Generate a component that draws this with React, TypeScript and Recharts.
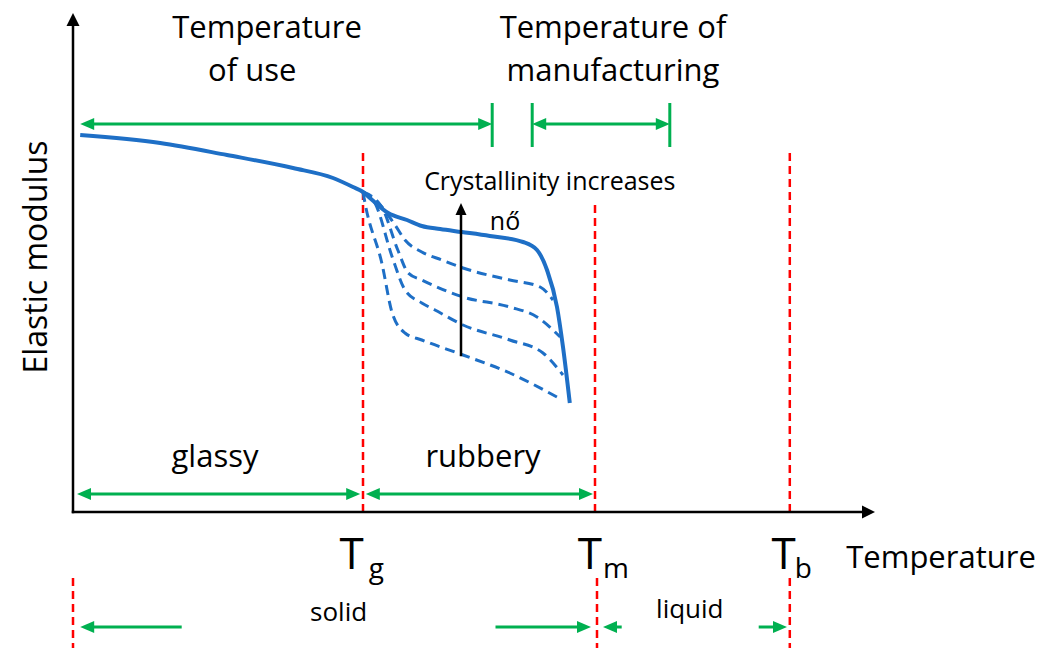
import React from 'react';
import { ComposedChart, Line, XAxis, YAxis, ReferenceLine, ReferenceDot } from 'recharts';

// temperature (t) vs elastic modulus (e), arbitrary units
const solidCurve = [
  { t: 0.9, e: 75.4 }, { t: 10.9, e: 73.8 }, { t: 19.25, e: 71.4 }, { t: 27.5, e: 68.8 },
  { t: 32.5, e: 66.8 }, { t: 35, e: 65 }, { t: 36.25, e: 64 }, { t: 37.4, e: 62.4 },
  { t: 39.4, e: 59.8 }, { t: 41.75, e: 58.4 }, { t: 43.6, e: 57.2 }, { t: 45.9, e: 56.6 },
  { t: 48.6, e: 56 }, { t: 52.1, e: 55.2 }, { t: 56.25, e: 54 }, { t: 58, e: 52.4 },
  { t: 59.25, e: 48.4 }, { t: 60.5, e: 41 }, { t: 61.25, e: 33 }, { t: 62.1, e: 21.8 },
];

const dashed1 = [
  { t: 36.25, e: 64 }, { t: 38.4, e: 61.4 }, { t: 40.25, e: 57.4 }, { t: 41.5, e: 54.4 },
  { t: 43.6, e: 52 }, { t: 46.1, e: 50.4 }, { t: 48.75, e: 48.8 }, { t: 54.6, e: 46.4 },
  { t: 58.4, e: 45 }, { t: 60, e: 42.4 },
];
const dashed2 = [
  { t: 36.25, e: 64 }, { t: 38.6, e: 61 }, { t: 40.6, e: 52.4 }, { t: 41.9, e: 47.8 },
  { t: 43.6, e: 46.4 }, { t: 48.75, e: 43 }, { t: 54.6, e: 41 }, { t: 58, e: 39 },
  { t: 60.9, e: 35 },
];
const dashed3 = [
  { t: 36.25, e: 64 }, { t: 37.75, e: 61.8 }, { t: 39.9, e: 51 }, { t: 41.5, e: 44.4 },
  { t: 43.6, e: 41.8 }, { t: 45.25, e: 40.4 }, { t: 48.75, e: 37.4 }, { t: 54.6, e: 34.4 },
  { t: 58.75, e: 31.8 }, { t: 61.25, e: 27.4 },
];
const dashed4 = [
  { t: 36.25, e: 64 }, { t: 36.5, e: 61.8 }, { t: 38.6, e: 49.8 }, { t: 39.9, e: 39.8 },
  { t: 41.5, e: 35.8 }, { t: 43.6, e: 34.4 }, { t: 48.75, e: 31.4 }, { t: 54.6, e: 27.8 },
  { t: 60.5, e: 23 },
];
const dashedCurves = [dashed1, dashed2, dashed3, dashed4];

// transition temperatures (Tg, Tm, Tb)
const transitions = [
  { name: 'g', t: 36.25, tLow: 36.25, top: 71.8 },
  { name: 'm', t: 65.25, tLow: 65.5, top: 61.4 },
  { name: 'b', t: 89.6, tLow: 89.6, top: 72.4 },
];

// temperature ranges shown as green arrows
const ranges = [
  { from: 0.9, to: 52.4, level: 77.6, heads: 'both' },
  { from: 57.4, to: 74.6, level: 77.6, heads: 'both' },
  { from: 0.5, to: 35.9, level: 3.6, heads: 'both' },
  { from: 36.6, to: 65, level: 3.6, heads: 'both' },
  { from: 0.9, to: 13.4, level: -23, heads: 'start' },
  { from: 53, to: 64.75, level: -23, heads: 'end' },
  { from: 66.25, to: 68.4, level: -23, heads: 'start' },
  { from: 85.9, to: 89.25, level: -23, heads: 'end' },
];
const rangeTicks = [52.4, 57.4, 74.6];

const GREEN = '#00B050';
const BLUE = '#1E6FC6';
const RED = '#FF0000';
const FONT = '"Open Sans", sans-serif';

const headPoints = (tx: number, ty: number, dx: number, dy: number, len: number, w: number) => {
  const bx = tx - dx * len;
  const by = ty - dy * len;
  return `${tx},${ty} ${bx - (dy * w) / 2},${by + (dx * w) / 2} ${bx + (dy * w) / 2},${by - (dx * w) / 2}`;
};

const arrowShape =
  (color: string, width: number, startHead: boolean, endHead: boolean, len = 14, w = 12) =>
  (p: any) => {
    const { x1, y1, x2, y2 } = p;
    const L = Math.hypot(x2 - x1, y2 - y1) || 1;
    const dx = (x2 - x1) / L;
    const dy = (y2 - y1) / L;
    const sx = startHead ? x1 + dx * len * 0.7 : x1;
    const sy = startHead ? y1 + dy * len * 0.7 : y1;
    const ex = endHead ? x2 - dx * len * 0.7 : x2;
    const ey = endHead ? y2 - dy * len * 0.7 : y2;
    return (
      <g>
        <line x1={sx} y1={sy} x2={ex} y2={ey} stroke={color} strokeWidth={width} strokeLinecap="square" />
        {endHead && <polygon points={headPoints(x2, y2, dx, dy, len, w)} fill={color} />}
        {startHead && <polygon points={headPoints(x1, y1, -dx, -dy, len, w)} fill={color} />}
      </g>
    );
  };

const textShape = (text: string, size: number, rotate = false) => (p: any) => (
  <text
    x={p.cx}
    y={p.cy}
    textAnchor="middle"
    fontFamily={FONT}
    fontSize={size}
    fill="#000"
    transform={rotate ? `rotate(-90 ${p.cx} ${p.cy})` : undefined}
  >
    {text}
  </text>
);

// "T" with a subscript, anchored at the left edge of the T
const tempShape = (sub: string, gap: number) => (p: any) => (
  <text x={p.cx} y={p.cy} fontFamily={FONT} fontSize={44} fill="#000">
    T
    <tspan fontSize={28} dx={gap} dy={9}>
      {sub}
    </tspan>
  </text>
);

const notes = [
  { text: 'Temperature', x: 24.25, y: 94.8, size: 31 },
  { text: 'of use', x: 22.4, y: 86.2, size: 31 },
  { text: 'Temperature of', x: 67.5, y: 94.8, size: 31 },
  { text: 'manufacturing', x: 67.5, y: 86.2, size: 31 },
  { text: 'Crystallinity increases', x: 59.6, y: 64.4, size: 25 },
  { text: 'nő', x: 54, y: 56.4, size: 25 },
  { text: 'glassy', x: 17.75, y: 9, size: 31 },
  { text: 'rubbery', x: 51.25, y: 9, size: 31 },
  { text: 'Temperature', x: 108.5, y: -11.2, size: 31 },
  { text: 'solid', x: 33.2, y: -21.8, size: 26 },
  { text: 'liquid', x: 77.1, y: -21.2, size: 26 },
];

const tempLabels = [
  { sub: 'g', x: 33.3, gap: 5 },
  { sub: 'm', x: 63.1, gap: 1 },
  { sub: 'b', x: 87.3, gap: -1 },
];

export default function App() {
  return (
    <div style={{ position: 'absolute', left: 0, top: 0, background: '#fff' }}>
      <ComposedChart width={1050} height={648} margin={{ top: 12, right: 177, bottom: 136, left: 73 }}>
        <XAxis dataKey="t" type="number" domain={[0, 100]} allowDataOverflow hide />
        <YAxis dataKey="e" type="number" domain={[0, 100]} allowDataOverflow hide />

        {/* red dashed transition lines */}
        {transitions.map((tr) => (
          <ReferenceLine
            key={`up-${tr.name}`}
            segment={[{ x: tr.t, y: 0 }, { x: tr.t, y: tr.top }]}
            stroke={RED}
            strokeWidth={2.5}
            strokeDasharray="8 5"
            ifOverflow="visible"
          />
        ))}
        {[0, ...transitions.slice(1).map((tr) => tr.tLow)].map((t, i) => (
          <ReferenceLine
            key={`low-${i}`}
            segment={[{ x: t, y: -13.2 }, { x: t, y: -27.2 }]}
            stroke={RED}
            strokeWidth={2.5}
            strokeDasharray="8 5"
            ifOverflow="visible"
          />
        ))}

        {/* axes with arrows */}
        <ReferenceLine
          segment={[{ x: 0, y: 0 }, { x: 0, y: 99.8 }]}
          ifOverflow="visible"
          shape={arrowShape('#000', 2.5, false, true, 13, 13)}
        />
        <ReferenceLine
          segment={[{ x: 0, y: 0 }, { x: 100.25, y: 0 }]}
          ifOverflow="visible"
          shape={arrowShape('#000', 2.5, false, true, 13, 13)}
        />

        {/* green range arrows */}
        {ranges.map((r, i) => (
          <ReferenceLine
            key={`rng-${i}`}
            segment={[{ x: r.from, y: r.level }, { x: r.to, y: r.level }]}
            ifOverflow="visible"
            shape={arrowShape(GREEN, 3, r.heads === 'both' || r.heads === 'start', r.heads === 'both' || r.heads === 'end')}
          />
        ))}
        {rangeTicks.map((t, i) => (
          <ReferenceLine
            key={`tick-${i}`}
            segment={[{ x: t, y: 73 }, { x: t, y: 81.8 }]}
            stroke={GREEN}
            strokeWidth={3}
            ifOverflow="visible"
          />
        ))}

        {/* modulus curves */}
        {dashedCurves.map((d, i) => (
          <Line
            key={`d-${i}`}
            data={d}
            dataKey="e"
            type="monotone"
            stroke={BLUE}
            strokeWidth={3}
            strokeDasharray="10 6"
            dot={false}
            activeDot={false}
            isAnimationActive={false}
          />
        ))}
        <Line
          data={solidCurve}
          dataKey="e"
          type="monotone"
          stroke={BLUE}
          strokeWidth={4}
          dot={false}
          activeDot={false}
          isAnimationActive={false}
        />

        {/* crystallinity arrow */}
        <ReferenceLine
          segment={[{ x: 48.5, y: 31.4 }, { x: 48.5, y: 61.8 }]}
          ifOverflow="visible"
          shape={arrowShape('#000', 2.5, false, true, 12, 11)}
        />

        {notes.map((n, i) => (
          <ReferenceDot key={`n-${i}`} x={n.x} y={n.y} r={0} ifOverflow="visible" shape={textShape(n.text, n.size)} />
        ))}
        {tempLabels.map((l) => (
          <ReferenceDot key={`T-${l.sub}`} x={l.x} y={-11.4} r={0} ifOverflow="visible" shape={tempShape(l.sub, l.gap)} />
        ))}
        <ReferenceDot x={-3.25} y={51} r={0} ifOverflow="visible" shape={textShape('Elastic modulus', 32, true)} />
      </ComposedChart>
    </div>
  );
}
